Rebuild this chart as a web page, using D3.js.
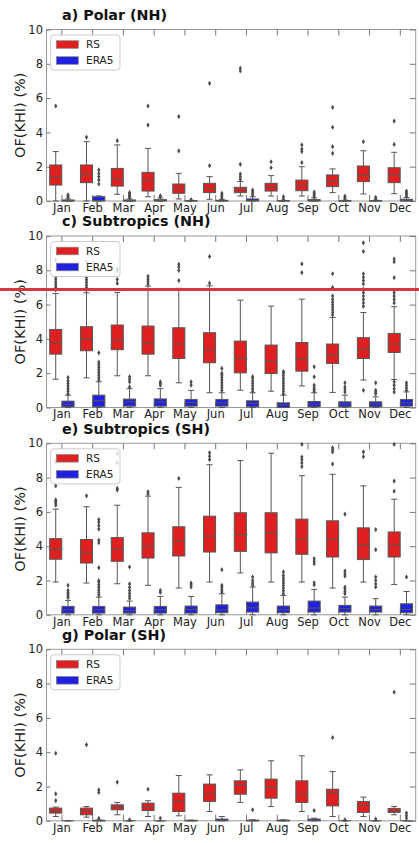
<!DOCTYPE html>
<html>
<head>
<meta charset="utf-8">
<script src="https://cdn.jsdelivr.net/npm/d3@7"></script>
<style>
  html, body { margin: 0; padding: 0; background: #fff; }
  svg { display: block; font-family: "DejaVu Sans", sans-serif; }
</style>
</head>
<body>
<svg id="chart" width="419" height="843"></svg>
<script>
// Month categories, y ticks, series and panel titles
const months = ["Jan","Feb","Mar","Apr","May","Jun","Jul","Aug","Sep","Oct","Nov","Dec"];
const yTicks = [0, 2, 4, 6, 8, 10];
const seriesNames = ["RS", "ERA5"];
const seriesColors = ["#df2020", "#2020df"];
const panelTitles = ["a) Polar (NH)", "c) Subtropics (NH)", "e) Subtropics (SH)", "g) Polar (SH)"];

// Box statistics per month: [whisker low, Q1, median, Q3, whisker high]
const polarNH_RS = [
  [0.00,0.93,1.42,2.10,2.88],[0.00,1.07,1.57,2.10,3.46],[0.39,0.87,1.26,1.90,3.27],
  [0.25,0.58,1.22,1.67,3.07],[0.12,0.45,0.74,0.99,1.61],[0.10,0.49,0.74,1.03,1.42],
  [0.29,0.49,0.64,0.80,1.13],[0.29,0.58,0.78,1.03,1.48],[0.29,0.60,0.89,1.22,2.00],
  [0.49,0.84,1.19,1.52,1.87],[0.41,1.13,1.52,2.04,2.93],[0.43,1.07,1.52,1.94,2.84]];
const polarNH_RS_out = [[5.54],[3.71],[3.52],[5.54,4.43],[4.92,2.92],[6.86,2.06],
  [7.74,7.58,2.14,1.57,1.42,1.26],[2.29,1.94],[3.27,3.03,2.88,2.24],[5.46,4.30,3.17,2.78],[3.46],[4.66,3.30]];
const polarNH_ERA = [
  [0,0,0.01,0.06,0.12],[0,0,0.03,0.25,0.30],[0,0,0.01,0.06,0.12],
  [0,0,0.02,0.08,0.18],[0,0,0,0.02,0.04],[0,0,0.01,0.04,0.08],
  [0,0,0.03,0.12,0.25],[0,0,0,0.02,0.04],[0,0,0.02,0.08,0.18],
  [0,0,0,0.02,0.05],[0,0,0,0.02,0.05],[0,0,0.03,0.10,0.20]];
const polarNH_ERA_out = [[0.20,0.28,0.36],[0.99,1.22,1.42,1.61,1.81],[0.18,0.26,0.34,0.42,0.49],
  [0.25,0.30],[0.08],[0.15,0.25,0.35,0.45],[0.33,0.45,0.55,0.64],[0.12,0.25],
  [0.25,0.33,0.42,0.52],[0.12,0.20,0.28],[0.12,0.22],[0.28,0.38,0.48,0.58]];

const subNH_RS = [
  [1.65,3.11,3.77,4.55,6.65],[1.73,3.31,3.97,4.71,6.69],[1.85,3.37,3.93,4.81,6.71],
  [1.85,3.11,3.77,4.75,7.08],[1.44,2.86,3.70,4.65,6.95],[0.86,2.61,3.35,4.36,7.10],
  [1.01,2.02,2.86,3.87,6.26],[0.95,1.98,2.70,3.64,5.91],[1.26,2.12,2.82,3.79,6.32],
  [0.88,2.57,3.05,3.70,5.25],[1.60,2.86,3.40,4.07,5.54],[1.63,3.21,3.70,4.32,5.88]];
const subNH_RS_out = [[6.85,7.0,7.15,7.3,7.45,7.6,8.6],[6.85,7.0,7.15,7.3,7.45,7.6,8.5],
  [7.24,7.47,7.98,8.1],[7.2,7.35,7.5,7.65],[7.4,8.0,8.2,8.35],[7.25,8.8],[],[],[7.86,8.37],
  [5.4,5.55,5.7,5.85,6.0,6.15,6.3,6.5,7.0,7.8],
  [1.0,5.9,6.1,6.3,6.5,6.7,6.9,7.2,7.4,7.6,7.8,9.1,9.6],
  [0.9,1.1,1.3,1.5,6.1,6.3,6.5,6.7,6.85,7.57,8.5,8.66]];
const subNH_ERA = [
  [0,0.04,0.19,0.37,0.72],[0,0.04,0.39,0.72,1.50],[0,0.08,0.33,0.49,1.10],
  [0,0.08,0.33,0.50,1.10],[0,0.08,0.29,0.47,1.00],[0,0.08,0.27,0.47,0.86],
  [0,0.04,0.23,0.39,0.86],[0,0,0.14,0.27,0.72],[0,0.04,0.20,0.35,0.86],
  [0,0.04,0.20,0.33,0.72],[0,0.04,0.20,0.33,0.62],[0,0.08,0.27,0.47,0.91]];
const subNH_ERA_out = [[0.8,0.95,1.1,1.25,1.4,1.55,1.75],[1.6,1.75,1.9,2.05,2.2,2.35,2.5,2.65,3.19],
  [1.2,1.5,1.65,1.79],[1.3,1.4,1.5],[1.3,1.5],[1.0,1.15,1.3,1.45,1.6,1.75,1.9,2.0,2.28],
  [0.95,1.1,1.25,1.4,1.55,1.7,1.8],[0.8,0.95,1.1,1.25,1.4,1.55,1.7,1.85,2.0,2.1],
  [0.95,1.05,1.15,1.3,1.79,2.37],[0.9,1.05,1.2,1.44],[0.8,0.9,1.0,1.44],[1.0,1.15,1.3,1.44]];

const subSH_RS = [
  [1.91,3.24,3.80,4.44,6.16],[1.85,3.02,3.61,4.39,6.30],[1.81,3.12,3.80,4.50,6.39],
  [1.72,3.31,4.00,4.78,6.92],[1.56,3.43,4.31,5.13,7.43],[1.91,3.66,4.58,5.75,8.75],
  [2.44,3.70,4.68,5.95,8.99],[1.91,3.61,4.80,5.95,9.42],[1.91,3.53,4.44,5.58,8.11],
  [1.56,3.37,4.44,5.48,8.19],[1.91,3.22,4.05,5.07,7.52],[1.77,3.37,4.05,4.83,6.74]];
const subSH_RS_out = [[6.39,6.5,6.6,6.7,7.52,8.93],[6.94,8.05],[7.27,7.37,8.87,9.4],[7.05,7.17],
  [7.95],[9.05,9.25,9.45],[],[],[8.64,8.85,9.05,9.2,9.94],[8.79,9.5,9.62,9.74],[9.22,9.5],[7.21,7.8,9.94]];
const subSH_ERA = [
  [0,0.10,0.29,0.49,0.84],[0,0.10,0.29,0.49,1.03],[0,0.10,0.25,0.45,0.80],
  [0,0.10,0.29,0.49,1.07],[0,0.10,0.31,0.51,1.07],[0,0.12,0.29,0.58,1.23],
  [0,0.16,0.41,0.74,1.62],[0,0.12,0.29,0.51,1.13],[0,0.16,0.39,0.80,1.48],
  [0,0.16,0.35,0.55,1.03],[0,0.16,0.31,0.51,0.94],[0,0.12,0.31,0.64,1.36]];
const subSH_ERA_out = [[1.0,1.1,1.2,1.3,1.42,1.72],
  [1.15,1.3,1.45,1.6,1.75,1.9,2.0,2.75,4.2,4.35,5.0,5.2,5.4,5.55],
  [0.95,1.1,1.25,1.42,1.6,1.8,2.79],[1.3,1.42],[1.62,1.75,1.85],[1.33,1.45,1.6,1.72,2.63],
  [1.72,1.85,2.0,2.2],[1.23,1.4,1.55,1.7,1.85,2.0,2.15,2.3,2.5],[1.75,1.87,2.98,3.12,3.27],
  [1.23,1.35,1.5,1.62,2.26,2.4,2.55,5.87],[1.62,1.8,2.0,2.2,3.8,4.97],[2.2]];

const polarSH_RS = [
  [0.25,0.45,0.58,0.74,0.80],[0.21,0.35,0.58,0.74,0.83],[0.35,0.64,0.80,0.93,1.07],
  [0.25,0.60,0.80,1.03,1.17],[0.29,0.54,1.13,1.61,2.64],[0.54,1.13,1.57,2.14,2.68],
  [1.07,1.55,2.10,2.33,2.97],[0.83,1.32,1.96,2.43,3.50],[0.54,1.07,1.57,2.33,3.79],
  [0.25,0.87,1.61,1.84,2.87],[0.25,0.49,0.89,1.13,1.38],[0.35,0.49,0.60,0.72,0.83]];
const polarSH_RS_out = [[1.18,1.57,3.94],[4.43],[2.25],[1.84],[],[],[],[],[],[4.85],[],[7.5]];
const polarSH_ERA = [
  [0,0,0,0,0],[0,0,0,0.03,0.05],[0,0,0,0,0],[0,0,0,0,0],[0,0,0,0.03,0.04],[0,0,0.02,0.10,0.25],
  [0,0,0,0.04,0.06],[0,0,0,0.04,0.06],[0,0,0.02,0.10,0.15],[0,0,0,0,0],[0,0,0,0,0],[0,0,0,0,0]];
const polarSH_ERA_out = [[],[0.15,1.65,1.8],[0.06],[0.15],[],[],[0.64],[],[0.6],[0.06],[0.1],[0.15,0.3,0.45]];

const panels = [
  { title: panelTitles[0], stats: [polarNH_RS, polarNH_ERA], out: [polarNH_RS_out, polarNH_ERA_out] },
  { title: panelTitles[1], stats: [subNH_RS, subNH_ERA], out: [subNH_RS_out, subNH_ERA_out] },
  { title: panelTitles[2], stats: [subSH_RS, subSH_ERA], out: [subSH_RS_out, subSH_ERA_out] },
  { title: panelTitles[3], stats: [polarSH_RS, polarSH_ERA], out: [polarSH_RS_out, polarSH_ERA_out] }
];

// Layout
const svg = d3.select("#chart");
const plotLeft = 46.5, plotRight = 415.7, plotH = 171.5;
const panelTops = [29.5, 236, 443.3, 649.3];
const lineGray = "#555";

const x = d3.scaleBand().domain(months).range([plotLeft, plotRight]).paddingInner(0).paddingOuter(0);
const hueOffset = d3.scaleBand().domain(seriesNames).range([-0.4, 0.4]);
const boxW = 0.4 * x.bandwidth() * 0.98;

function diamond(cx, cy) {
  const h = 2.6, w = 1.6;
  return `M${cx},${cy - h}L${cx + w},${cy}L${cx},${cy + h}L${cx - w},${cy}Z`;
}

panels.forEach((p, pi) => {
  const top = panelTops[pi];
  const y = d3.scaleLinear().domain([0, 10]).range([top + plotH, top]);
  const g = svg.append("g");

  // frame
  g.append("rect")
    .attr("x", plotLeft).attr("y", top)
    .attr("width", plotRight - plotLeft).attr("height", plotH)
    .attr("fill", "none").attr("stroke", "#999").attr("stroke-width", 1);

  // axes (ticks pointing inward)
  const axL = g.append("g").attr("transform", `translate(${plotLeft},0)`)
    .call(d3.axisLeft(y).tickValues(yTicks).tickSize(-4).tickPadding(3.5));
  const axR = g.append("g").attr("transform", `translate(${plotRight},0)`)
    .call(d3.axisRight(y).tickValues(yTicks).tickSize(-6).tickFormat(""));
  const axT = g.append("g").attr("transform", `translate(0,${top})`)
    .call(d3.axisTop(x).tickSize(-6).tickFormat(""));
  const axB = g.append("g").attr("transform", `translate(0,${top + plotH})`)
    .call(d3.axisBottom(x).tickSize(-6).tickPadding(2.6));
  [axL, axR, axT, axB].forEach(a => {
    a.select(".domain").remove();
    a.selectAll(".tick line").attr("stroke", "#777");
    a.selectAll(".tick text").attr("fill", "#222").style("font-size", "11.5px")
      .style("font-family", "DejaVu Sans, sans-serif");
  });

  // y-axis title
  g.append("text")
    .attr("transform", `translate(25,${top + plotH / 2}) rotate(-90)`)
    .attr("text-anchor", "middle")
    .style("font-size", "14.5px").attr("fill", "#222")
    .text("OF(KHI) (%)");

  // panel title
  g.append("text")
    .attr("x", 62).attr("y", top - 9.8)
    .style("font-size", "14.3px").style("font-weight", "bold").attr("fill", "#111")
    .text(p.title);

  // boxes
  seriesNames.forEach((s, si) => {
    const cxOff = (hueOffset(s) + hueOffset.bandwidth() / 2) * x.bandwidth();
    months.forEach((m, mi) => {
      const [lo, q1, med, q3, hi] = p.stats[si][mi];
      const cx = x(m) + x.bandwidth() / 2 + cxOff;
      const bg = g.append("g");
      // whiskers
      bg.append("line").attr("x1", cx).attr("x2", cx).attr("y1", y(q3)).attr("y2", y(hi))
        .attr("stroke", lineGray).attr("stroke-width", 1);
      bg.append("line").attr("x1", cx).attr("x2", cx).attr("y1", y(q1)).attr("y2", y(lo))
        .attr("stroke", lineGray).attr("stroke-width", 1);
      // caps
      [lo, hi].forEach(v => {
        bg.append("line").attr("x1", cx - boxW / 4).attr("x2", cx + boxW / 4)
          .attr("y1", y(v)).attr("y2", y(v))
          .attr("stroke", lineGray).attr("stroke-width", 1);
      });
      // box
      bg.append("rect")
        .attr("x", cx - boxW / 2).attr("y", y(q3))
        .attr("width", boxW).attr("height", Math.max(0, y(q1) - y(q3)))
        .attr("fill", seriesColors[si]).attr("stroke", lineGray).attr("stroke-width", 1);
      // median
      bg.append("line").attr("x1", cx - boxW / 2).attr("x2", cx + boxW / 2)
        .attr("y1", y(med)).attr("y2", y(med))
        .attr("stroke", lineGray).attr("stroke-width", 1);
      // outliers
      p.out[si][mi].forEach(v => {
        bg.append("path").attr("d", diamond(cx, y(v))).attr("fill", "#4c4c4c");
      });
    });
  });

  // legend
  const lg = g.append("g").attr("transform", `translate(${plotLeft + 4.2},${top + 5.5})`);
  lg.append("rect").attr("width", 69.3).attr("height", 35).attr("rx", 3)
    .attr("fill", "#fff").attr("fill-opacity", 0.8).attr("stroke", "#ccc").attr("stroke-width", 1);
  seriesNames.forEach((s, si) => {
    lg.append("rect").attr("x", 5.6).attr("y", 5.7 + si * 16).attr("width", 22).attr("height", 7.6)
      .attr("fill", seriesColors[si]).attr("stroke", "#888").attr("stroke-width", 0.7);
    lg.append("text").attr("x", 35.3).attr("y", 13.3 + si * 16)
      .style("font-size", "10.5px").attr("fill", "#222").text(s);
  });
});

// horizontal reference line across the figure
svg.append("line")
  .attr("x1", 0).attr("x2", 419).attr("y1", 289.5).attr("y2", 289.5)
  .attr("stroke", "#d7363c").attr("stroke-width", 3);
</script>
</body>
</html>
